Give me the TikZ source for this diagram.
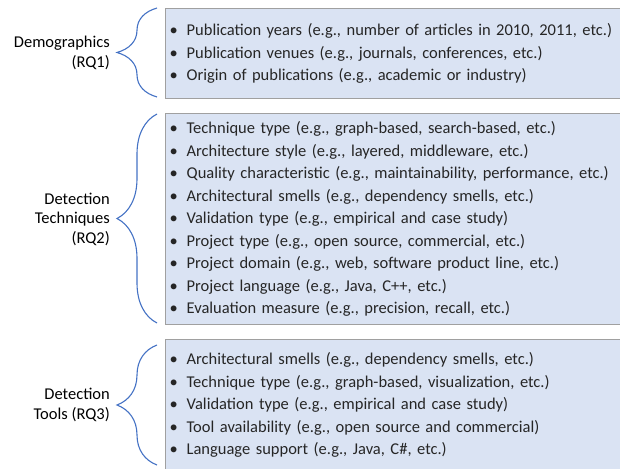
\documentclass[tikz,border=0pt]{standalone}
\usepackage{fontspec}
\setmainfont{Carlito}
\usetikzlibrary{decorations.pathreplacing}
\definecolor{boxfill}{HTML}{DAE3F3}
\definecolor{boxline}{HTML}{A0A0A0}
\definecolor{bracecol}{HTML}{4472C4}
\definecolor{itemtext}{HTML}{262626}
% one bulleted entry of a category box
\newcommand{\entry}[1]{\makebox[17pt][l]{\textbullet}#1}
\begin{document}
\begin{tikzpicture}[x=1pt,y=-1pt,
  catbox/.style={draw=boxline, line width=1.3pt, fill=boxfill,
    anchor=north west, text width=470pt,
    inner xsep=4pt, align=left, text=itemtext,
    font=\fontsize{16.5}{22.5}\selectfont},
  catlabel/.style={anchor=east, align=right, inner sep=0pt,
    font=\fontsize{16.5}{19.5}\selectfont},
  curly/.style={draw=bracecol, line width=1.1pt,
    decorate, decoration={brace, amplitude=40pt, aspect=0.5}}]
\useasboundingbox (0,0) rectangle (620,468);

% category boxes
\node[catbox, minimum height=90pt] (demo) at (165,8) {%
  \entry{Publication years (e.g., number of articles in 2010, 2011, etc.)}\\
  \entry{Publication venues (e.g., journals, conferences, etc.)}\\
  \entry{Origin of publications (e.g., academic or industry)}};
\node[catbox, minimum height=211pt] (tech) at (165,113) {%
  \entry{Technique type (e.g., graph-based, search-based, etc.)}\\
  \entry{Architecture style (e.g., layered, middleware, etc.)}\\
  \entry{Quality characteristic (e.g., maintainability, performance, etc.)}\\
  \entry{Architectural smells (e.g., dependency smells, etc.)}\\
  \entry{Validation type (e.g., empirical and case study)}\\
  \entry{Project type (e.g., open source, commercial, etc.)}\\
  \entry{Project domain (e.g., web, software product line, etc.)}\\
  \entry{Project language (e.g., Java, C++, etc.)}\\
  \entry{Evaluation measure (e.g., precision, recall, etc.)}};
\node[catbox, minimum height=131pt] (tools) at (165,339) {%
  \entry{Architectural smells (e.g., dependency smells, etc.)}\\
  \entry{Technique type (e.g., graph-based, visualization, etc.)}\\
  \entry{Validation type (e.g., empirical and case study)}\\
  \entry{Tool availability (e.g., open source and commercial)}\\
  \entry{Language support (e.g., Java, C\#, etc.)}};

% brace end points
\coordinate (demoB) at (157,97);  \coordinate (demoT) at (157,8);
\coordinate (techB) at (157,323); \coordinate (techT) at (157,114);
\coordinate (toolB) at (157,465); \coordinate (toolT) at (157,345);

% braces
\draw[curly] (demoB) -- (demoT);
\draw[curly] (techB) -- (techT);
\draw[curly] (toolB) -- (toolT);

% category labels
\node[catlabel] (demoL) at (110,53) {Demographics\\(RQ1)};
\node[catlabel] (techL) at (110,219) {Detection\\Techniques\\(RQ2)};
\node[catlabel] (toolL) at (110,405) {Detection\\Tools (RQ3)};
\end{tikzpicture}
\end{document}
